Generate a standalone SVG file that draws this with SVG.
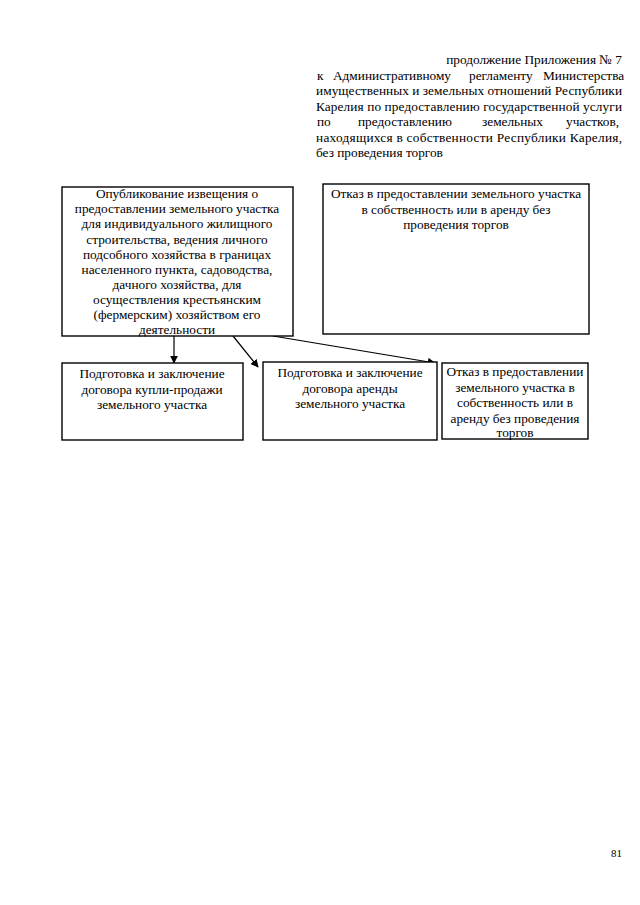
<svg xmlns="http://www.w3.org/2000/svg" width="640" height="905" viewBox="0 0 640 905">
<style>
text{font-family:"Liberation Serif","Times New Roman",serif;font-size:13.3px;fill:#000}
.c{text-anchor:middle}
.e{text-anchor:end}
.box{fill:#fff;stroke:#000;stroke-width:1.4}
.conn{stroke:#000;stroke-width:1.2;fill:none}
</style>
<defs>
<marker id="ah" viewBox="0 0 10 10" refX="9" refY="5" markerWidth="8" markerHeight="8" markerUnits="userSpaceOnUse" orient="auto">
<path d="M0,0 L10,5 L0,10 z" fill="#000"/>
</marker>
</defs>
<rect width="640" height="905" fill="#fff"/>
<g id="header">
<text class="e" x="622" y="64">продолжение Приложения № 7</text>
<text y="79.5"><tspan x="317">к</tspan><tspan x="333">Административному</tspan><tspan x="469">регламенту</tspan><tspan x="543">Министерства</tspan></text>
<text x="316" y="95" textLength="306" lengthAdjust="spacing">имущественных и земельных отношений Республики</text>
<text x="316" y="110.5" textLength="306" lengthAdjust="spacing">Карелия по предоставлению государственной услуги</text>
<text y="126"><tspan x="317">по</tspan><tspan x="358">предоставлению</tspan><tspan x="482">земельных</tspan><tspan x="566">участков,</tspan></text>
<text x="316" y="141.5" textLength="306" lengthAdjust="spacing">находящихся в собственности Республики Карелия,</text>
<text x="316" y="157">без проведения торгов</text>
</g>
<g id="connectors">
<line class="conn" x1="174" y1="336" x2="174" y2="363" marker-end="url(#ah)"/>
<line class="conn" x1="233" y1="336" x2="258" y2="367" marker-end="url(#ah)"/>
<line class="conn" x1="273" y1="336" x2="435" y2="363" marker-end="url(#ah)"/>
</g>
<g id="node-publish">
<rect class="box" x="62" y="187" width="231" height="149"/>
<text class="c" x="177" y="198">Опубликование извещения  о</text>
<text class="c" x="177" y="213">предоставлении земельного участка</text>
<text class="c" x="177" y="228">для индивидуального жилищного</text>
<text class="c" x="177" y="243.5">строительства, ведения личного</text>
<text class="c" x="177" y="258.5">подсобного хозяйства в границах</text>
<text class="c" x="177" y="273.5">населенного пункта, садоводства,</text>
<text class="c" x="177" y="288.5">дачного хозяйства, для</text>
<text class="c" x="177" y="304">осуществления крестьянским</text>
<text class="c" x="177" y="319">(фермерским) хозяйством его</text>
<text class="c" x="177" y="334">деятельности</text>
</g>
<g id="node-refusal-top">
<rect class="box" x="323" y="184" width="266" height="150"/>
<text class="c" x="456" y="198">Отказ в предоставлении земельного участка</text>
<text class="c" x="456" y="213.5">в собственность или в аренду без</text>
<text class="c" x="456" y="229">проведения торгов</text>
</g>
<g id="node-sale">
<rect class="box" x="62" y="363" width="181" height="77"/>
<text class="c" x="152" y="378">Подготовка и заключение</text>
<text class="c" x="152" y="393.5">договора купли-продажи</text>
<text class="c" x="152" y="409">земельного участка</text>
</g>
<g id="node-lease">
<rect class="box" x="263" y="362" width="174" height="78"/>
<text class="c" x="350" y="377">Подготовка и заключение</text>
<text class="c" x="350" y="392.5">договора аренды</text>
<text class="c" x="350" y="408">земельного участка</text>
</g>
<g id="node-refusal-bottom">
<rect class="box" x="442" y="363" width="146" height="76"/>
<text class="c" x="515" y="376">Отказ в предоставлении</text>
<text class="c" x="515" y="391.5">земельного участка в</text>
<text class="c" x="515" y="407">собственность или в</text>
<text class="c" x="515" y="422.5">аренду без проведения</text>
<text class="c" x="515" y="437">торгов</text>
</g>
<text x="622" y="857" class="e" style="font-size:11px">81</text>
</svg>
